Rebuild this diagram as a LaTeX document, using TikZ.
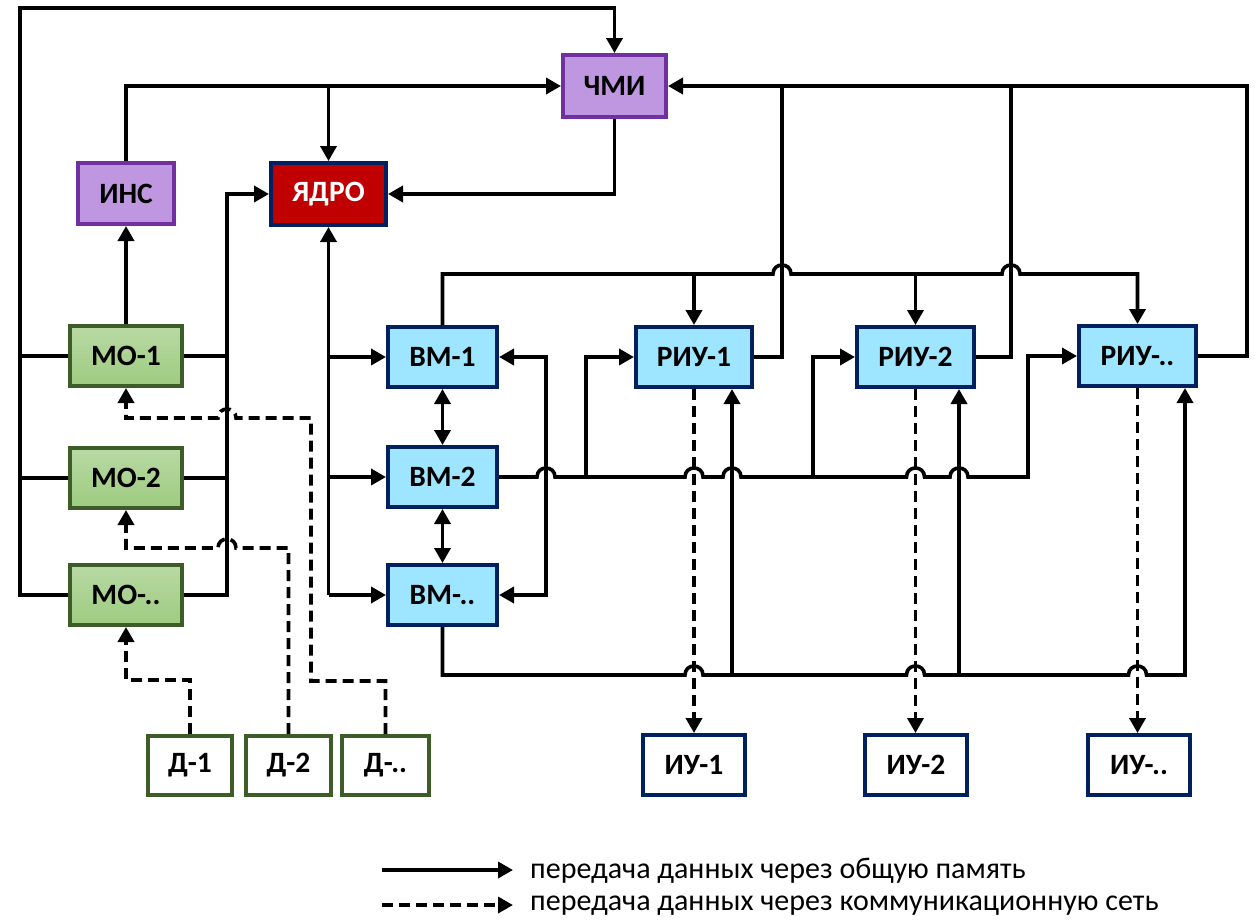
\documentclass[tikz,border=0pt]{standalone}
\usepackage{fontspec}
\setmainfont{Carlito}
\usetikzlibrary{arrows.meta}
\definecolor{purfill}{RGB}{191,150,224}
\definecolor{purline}{RGB}{112,48,160}
\definecolor{redfill}{RGB}{192,0,0}
\definecolor{navy}{RGB}{0,32,96}
\definecolor{bluefill}{RGB}{158,229,255}
\definecolor{grline}{RGB}{61,92,39}
\definecolor{grtop}{RGB}{185,217,165}
\definecolor{grbot}{RGB}{157,203,127}
\tikzset{
  box/.style={draw, line width=4pt, inner sep=0pt, minimum height=60pt,
    font=\bfseries\fontsize{29.5}{32}\selectfont},
  purbox/.style={box, draw=purline, fill=purfill},
  redbox/.style={box, draw=navy, fill=redfill, text=white},
  mobox/.style={box, draw=grline, top color=grtop, bottom color=grbot, minimum width=112pt},
  bluebox/.style={box, draw=navy, fill=bluefill},
  dbox/.style={box, draw=grline, fill=white, minimum height=59pt},
  iubox/.style={box, draw=navy, fill=white, minimum width=102pt},
  conn/.style={line width=3.6pt, line join=miter},
  arr/.style={conn, -{Triangle[length=15pt,width=16pt]}},
  darr/.style={conn, {Triangle[length=15pt,width=16pt]}-{Triangle[length=15pt,width=16pt]}},
  netline/.style={conn, dash pattern=on 11pt off 6pt},
  narr/.style={netline, -{Triangle[length=15pt,width=16pt]}},
  hopr/.style 2 args={insert path={-- (#1-9,#2) .. controls (#1-9,#2-12) and (#1+9,#2-12) .. (#1+9,#2)}},
  hopl/.style 2 args={insert path={-- (#1+9,#2) .. controls (#1+9,#2-12) and (#1-9,#2-12) .. (#1-9,#2)}},
  legtext/.style={anchor=west, inner sep=0pt, font=\fontsize{30}{32}\selectfont}
}
\begin{document}
\begin{tikzpicture}[x=1pt,y=-1pt]
\useasboundingbox (0,0) rectangle (1255,919);
\fill[white] (0,0) rectangle (1255,919);

% nodes
\node[purbox, minimum width=103pt, minimum height=62pt] (chmi) at (614.5,86) {ЧМИ};
\node[purbox, minimum width=96pt, minimum height=61pt] (ins) at (126,193.5) {ИНС};
\node[redbox, minimum width=115pt, minimum height=62pt] (yadro) at (328.5,194) {ЯДРО};

\node[mobox] (mo1) at (126,356) {МО-1};
\node[mobox] (mo2) at (126,478) {МО-2};
\node[mobox] (mo3) at (126,595) {МО-..};

\node[bluebox, minimum width=109pt] (bm1) at (442.5,357) {ВМ-1};
\node[bluebox, minimum width=109pt] (bm2) at (442.5,477) {ВМ-2};
\node[bluebox, minimum width=109pt] (bm3) at (442.5,595) {ВМ-..};

\node[bluebox, minimum width=116pt] (riu1) at (694,357) {РИУ-1};
\node[bluebox, minimum width=117pt] (riu2) at (915.5,357) {РИУ-2};
\node[bluebox, minimum width=117pt] (riu3) at (1137.5,356) {РИУ-..};

\node[dbox, minimum width=84pt] (d1) at (190,765.5) {Д-1};
\node[dbox, minimum width=85pt] (d2) at (288.5,765.5) {Д-2};
\node[dbox, minimum width=87pt] (d3) at (385.5,765.5) {Д-..};

\node[iubox] (iu1) at (694,765) {ИУ-1};
\node[iubox] (iu2) at (916,765) {ИУ-2};
\node[iubox] (iu3) at (1139,765) {ИУ-..};

% MO left bus to ЧМИ
\draw[arr] (mo3.west) -| (20,8) -| (chmi.north);
\draw[conn] (mo1.west) -- (20,0 |- mo1.west);
\draw[conn] (mo2.west) -- (20,0 |- mo2.west);

% MO right bus to ЯДРО
\draw[arr] (mo3.east) -| (227,0 |- yadro.west) -- (yadro.west);
\draw[conn] (mo1.east) -- (227,0 |- mo1.east);
\draw[conn] (mo2.east) -- (227,0 |- mo2.east);

% MO-1 to ИНС
\draw[arr] (mo1.north) -- (ins.south);

% ИНС to ЧМИ and ЯДРО
\draw[arr] (ins.north) |- (chmi.west);
\draw[arr] (yadro.north |- chmi.west) -- (yadro.north);

% ЧМИ to ЯДРО
\draw[arr] (chmi.south) |- (yadro.east);

% ЯДРО <-> ВМ
\draw[arr] (yadro.south |- bm3.west) -- (yadro.south);
\draw[arr] (yadro.south |- bm1.west) -- (bm1.west);
\draw[arr] (yadro.south |- bm2.west) -- (bm2.west);
\draw[arr] (yadro.south |- bm3.west) -- (bm3.west);

% ВМ interconnections
\draw[darr] (bm1.south) -- (bm2.north);
\draw[darr] (bm2.south) -- (bm3.north);
\draw[darr] (bm1.east) -| (546,0 |- bm3.east) -- (bm3.east);

% ВМ-2 bus to РИУ
\draw[arr] (bm2.east) [hopr={546}{477}] [hopr={694}{477}] [hopr={732}{477}]
  [hopr={915.5}{477}] [hopr={959}{477}] -| (1028,0 |- riu3.west) -- (riu3.west);
\draw[arr] (586,477) |- (riu1.west);
\draw[arr] (813,477) |- (riu2.west);

% ВМ-1 bus to РИУ tops
\draw[arr] (bm1.north) -- (bm1.north |- 0,274) [hopr={782}{274}] [hopr={1011}{274}] -| (riu3.north);
\draw[arr] (riu1.north |- 0,274) -- (riu1.north);
\draw[arr] (riu2.north |- 0,274) -- (riu2.north);

% РИУ outputs to ЧМИ
\draw[arr] (riu3.east) -| (1247,0 |- chmi.east) -- (chmi.east);
\draw[conn] (riu1.east) -| (782,0 |- chmi.east);
\draw[conn] (riu2.east) -| (1011,0 |- chmi.east);

% ВМ-.. bus to РИУ bottoms
\draw[arr] (bm3.south) -- (bm3.south |- 0,675) [hopr={694}{675}] [hopr={915.5}{675}]
  [hopr={1137.5}{675}] -| (1185,0 |- riu3.south);
\draw[arr] (732,675) -- (732,0 |- riu1.south);
\draw[arr] (959,675) -- (959,0 |- riu2.south);

% РИУ to ИУ (network)
\draw[narr] (riu1.south) -- (riu1.south |- iu1.north);
\draw[narr] (riu2.south) -- (riu2.south |- iu2.north);
\draw[narr] (riu3.south) -- (riu3.south |- iu3.north);

% Д to МО (network)
\draw[narr] (d1.north) |- (mo3.south |- 0,680) -- (mo3.south);
\draw[narr] (d2.north) -- (d2.north |- 0,548) [hopl={227}{548}] -| (mo2.south);
\draw[narr] (d3.north) -- (d3.north |- 0,681) -- (311,681) -- (311,418) [hopl={227}{418}] -| (mo1.south);

% legend
\coordinate (l1a) at (382,870);
\coordinate (l1b) at (513,870);
\coordinate (l2a) at (382,905);
\coordinate (l2b) at (513,905);
\draw[arr] (l1a) -- (l1b);
\draw[narr] (l2a) -- (l2b);
\node[legtext] (t1) at (530,870.5) {передача данных через общую память};
\node[legtext] (t2) at (530,905.5) {передача данных через коммуникационную сеть};
\end{tikzpicture}
\end{document}
